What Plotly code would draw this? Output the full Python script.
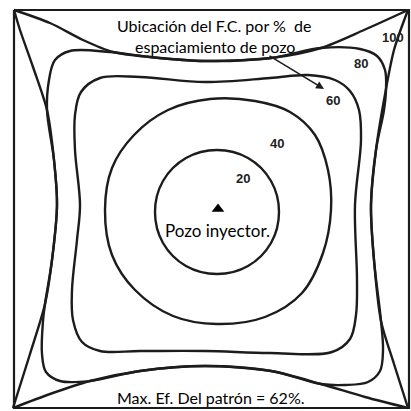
import plotly.graph_objects as go

# Pattern boundary (pixel-like units, y grows downward)
box_x = [14, 409, 409, 14, 14]
box_y = [10, 10, 408, 408, 10]

# 100% curves, one per side, corner to corner
c100_top = [(14, 10), (50, 23), (83, 40), (113, 52), (150, 57), (205, 61),
            (271, 58), (321, 48), (364, 30), (408, 10)]
c100_left = [(14, 10), (20, 30), (33, 67), (47, 110), (54, 160), (57, 205),
             (52, 260), (45, 304), (30, 354), (13, 408)]
c100_bottom = [(13, 408), (50, 394), (90, 381), (140, 371), (205, 366),
               (271, 371), (321, 384), (365, 397), (408, 408)]
c100_right = [(408, 10), (394, 50), (384, 100), (376, 150), (371, 205),
              (374, 260), (381, 321), (394, 364), (408, 408)]

# closed contours
c80 = [(47, 110), (49, 80), (55, 60), (70, 51), (110, 52), (150, 57), (205, 61),
       (271, 58), (321, 48), (360, 49), (377, 56), (385, 70), (386, 90),
       (384, 110), (376, 150), (371, 205), (374, 260), (381, 321), (383, 350),
       (380, 371), (368, 382), (345, 385), (321, 384), (271, 371), (205, 366),
       (140, 371), (90, 381), (60, 381), (46, 372), (42, 354), (43, 321),
       (45, 304), (52, 260), (57, 205), (54, 160), (47, 110)]
c60 = [(100, 78), (140, 77), (205, 82), (270, 78), (308, 75), (335, 80),
       (350, 91), (359, 110), (361, 140), (355, 205), (357, 280), (356, 315),
       (350, 339), (332, 352), (270, 353), (205, 351), (140, 351), (100, 351),
       (82, 342), (73, 320), (72, 290), (77, 240), (80, 205), (75, 150),
       (75, 115), (81, 92), (100, 78)]
c40 = [(210, 99), (255, 101), (290, 112), (315, 135), (328, 170), (331, 210),
       (323, 253), (302, 293), (265, 317), (217, 324), (173, 316), (135, 290),
       (112, 255), (105, 210), (112, 168), (134, 135), (168, 110), (210, 99)]
c20 = [(279, 212), (271, 181), (248, 158), (217, 150), (186, 158), (163, 181),
       (155, 212), (163, 243), (186, 266), (217, 274), (248, 266), (271, 243),
       (279, 212)]

well = (218, 209)

levels = ["20", "40", "60", "80", "100"]
level_pos = [(243, 178), (277, 143), (333, 100), (361, 63), (393, 37)]

line_col = '#1c1c1c'

fig = go.Figure()

fig.add_trace(go.Scatter(x=box_x, y=box_y, mode='lines',
                         line=dict(color=line_col, width=2.2), hoverinfo='skip'))

for side in [c100_top, c100_left, c100_bottom, c100_right]:
    fig.add_trace(go.Scatter(x=[p[0] for p in side], y=[p[1] for p in side],
                             mode='lines', line=dict(color=line_col, width=2.4,
                                                     shape='spline', smoothing=0.8),
                             hoverinfo='skip'))

for cont in [c80, c60, c40, c20]:
    fig.add_trace(go.Scatter(x=[p[0] for p in cont], y=[p[1] for p in cont],
                             mode='lines', line=dict(color=line_col, width=2.4,
                                                     shape='spline', smoothing=1.0),
                             hoverinfo='skip'))

# injector well
fig.add_trace(go.Scatter(x=[well[0]], y=[well[1]], mode='markers',
                         marker=dict(symbol='triangle-up', size=11, color='black'),
                         hoverinfo='skip'))

# contour labels
for lab, (x, y) in zip(levels, level_pos):
    fig.add_annotation(x=x, y=y, text=f"<b>{lab}</b>", showarrow=False,
                       font=dict(family='Liberation Sans', size=13, color='#222222'))

# arrow pointing to the 60 contour label
fig.add_annotation(x=324, y=89, ax=268, ay=55, xref='x', yref='y',
                   axref='x', ayref='y', showarrow=True, arrowhead=2,
                   arrowsize=1, arrowwidth=1.6, arrowcolor=line_col, text='')

txt_font = dict(family='Lato', size=16, color='black')
fig.add_annotation(x=214, y=25, text="Ubicación del F.C. por %  de", showarrow=False,
                   font=txt_font)
fig.add_annotation(x=215, y=46, text="espaciamiento de pozo", showarrow=False,
                   font=txt_font)
fig.add_annotation(x=217, y=230, text="Pozo inyector.", showarrow=False,
                   font=dict(family='Lato', size=17, color='black'))
fig.add_annotation(x=210, y=397, text="Max. Ef. Del patrón = 62%.", showarrow=False,
                   font=txt_font)

fig.update_layout(
    width=411, height=411,
    margin=dict(l=0, r=0, t=0, b=0),
    xaxis=dict(range=[0, 411], visible=False, fixedrange=True),
    yaxis=dict(range=[411, 0], visible=False, fixedrange=True),
    plot_bgcolor='white', paper_bgcolor='white',
    showlegend=False
)

# drop the page's default body margin so the 411px figure fills the window
fig.write_html("out.html",
               config={'displayModeBar': False},
               post_script="document.body.style.margin='0';"
                           "document.body.style.overflow='hidden';")
